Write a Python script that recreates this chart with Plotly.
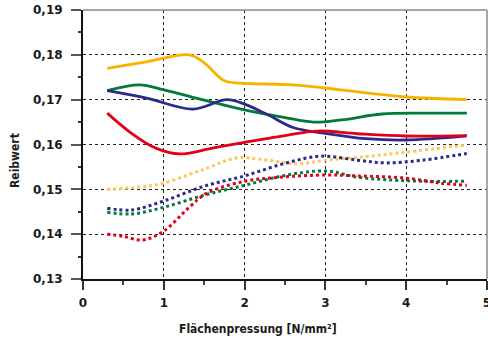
import plotly.graph_objects as go

# Friction coefficient (Reibwert) over surface pressure (Flächenpressung)
orange_x = [0.3, 0.8, 1.32, 1.5, 1.75, 1.95, 2.6, 3.0, 3.5, 4.0, 4.75]
orange_y = [0.1770, 0.1785, 0.1800, 0.1782, 0.1742, 0.1737, 0.1733, 0.1726, 0.1715, 0.1706, 0.1700]

green_x = [0.3, 0.7, 1.0, 1.5, 2.0, 2.5, 2.85, 3.2, 3.7, 4.2, 4.75]
green_y = [0.1720, 0.1733, 0.1722, 0.1699, 0.1677, 0.1660, 0.1650, 0.1655, 0.1668, 0.1670, 0.1670]

navy_x = [0.3, 0.8, 1.36, 1.78, 2.0, 2.3, 2.6, 3.0, 3.5, 4.0, 4.75]
navy_y = [0.1720, 0.1703, 0.1679, 0.1700, 0.1690, 0.1665, 0.1638, 0.1625, 0.1613, 0.1610, 0.1619]

red_x = [0.3, 0.6, 0.9, 1.2, 1.6, 2.0, 2.5, 2.9, 3.4, 4.0, 4.75]
red_y = [0.1670, 0.1625, 0.1592, 0.1579, 0.1592, 0.1605, 0.1620, 0.1630, 0.1624, 0.1619, 0.1620]

orange_dot_x = [0.3, 0.7, 1.0, 1.5, 1.9, 2.2, 2.65, 3.0, 3.5, 4.0, 4.75]
orange_dot_y = [0.1500, 0.1505, 0.1514, 0.1545, 0.1570, 0.1567, 0.1557, 0.1565, 0.1573, 0.1583, 0.1599]

navy_dot_x = [0.3, 0.6, 1.0, 1.5, 2.0, 2.5, 2.95, 3.4, 3.75, 4.2, 4.75]
navy_dot_y = [0.1458, 0.1454, 0.1474, 0.1507, 0.1530, 0.1558, 0.1574, 0.1565, 0.1559, 0.1565, 0.1580]

green_dot_x = [0.3, 0.6, 1.0, 1.5, 2.0, 2.5, 3.0, 3.4, 3.8, 4.2, 4.75]
green_dot_y = [0.1449, 0.1445, 0.1460, 0.1487, 0.1509, 0.1531, 0.1541, 0.1527, 0.1521, 0.1518, 0.1518]

red_dot_x = [0.3, 0.5, 0.74, 1.0, 1.32, 1.53, 2.0, 2.44, 3.0, 3.4, 4.0, 4.42, 4.75]
red_dot_y = [0.1400, 0.1395, 0.1387, 0.1407, 0.1461, 0.1491, 0.1518, 0.1527, 0.1532, 0.1530, 0.1525, 0.1514, 0.1509]

x_ticks = [0, 1, 2, 3, 4, 5]
y_ticks = [0.13, 0.14, 0.15, 0.16, 0.17, 0.18, 0.19]
y_tick_labels = ["0,13", "0,14", "0,15", "0,16", "0,17", "0,18", "0,19"]

ORANGE = "#F7B200"
ORANGE_LIGHT = "#FDC75A"
GREEN = "#007A3D"
NAVY = "#2A2A8A"
RED = "#E2001A"

series = [
    ("Serie 1", orange_dot_x, orange_dot_y, ORANGE_LIGHT, "dot"),
    ("Serie 2", navy_dot_x, navy_dot_y, NAVY, "dot"),
    ("Serie 3", green_dot_x, green_dot_y, GREEN, "dot"),
    ("Serie 4", red_dot_x, red_dot_y, RED, "dot"),
    ("Serie 5", orange_x, orange_y, ORANGE, "solid"),
    ("Serie 6", green_x, green_y, GREEN, "solid"),
    ("Serie 7", navy_x, navy_y, NAVY, "solid"),
    ("Serie 8", red_x, red_y, RED, "solid"),
]

fig = go.Figure()
for name, xs, ys, col, dash in series:
    fig.add_trace(go.Scatter(
        x=xs, y=ys, name=name, mode="lines",
        line=dict(color=col, width=3 if dash == "dot" else 2.8, dash=dash,
                  shape="spline", smoothing=1.0),
    ))

tick_font = dict(family="DejaVu Sans, Liberation Sans, sans-serif", size=12,
                 color="#1a1a1a", weight="bold")
title_font = dict(family="Liberation Sans Narrow, DejaVu Sans Condensed, Liberation Sans",
                  size=12, color="#1a1a1a")

fig.update_layout(
    width=488, height=343,
    margin=dict(l=83, r=1, t=10, b=64, autoexpand=False),
    paper_bgcolor="white", plot_bgcolor="white",
    showlegend=False,
    font=dict(family="Liberation Sans, Arial, sans-serif", color="#1a1a1a"),
    xaxis=dict(
        range=[0, 5], tickvals=x_ticks, ticktext=[str(v) for v in x_ticks],
        tickfont=tick_font, ticklabeloverflow="allow", ticklabelstandoff=3,
        automargin=False,
        showline=True, linecolor="#111", linewidth=2,
        showgrid=True, gridcolor="#222", griddash="dot", gridwidth=1,
        ticks="outside", ticklen=9, tickwidth=2, tickcolor="#333",
        minor=dict(dtick=0.5, ticks="outside", ticklen=4, tickwidth=2, tickcolor="#444", showgrid=False),
        zeroline=False, fixedrange=True,
    ),
    yaxis=dict(
        range=[0.13, 0.19], tickvals=y_ticks, ticktext=y_tick_labels,
        tickfont=tick_font, ticklabeloverflow="allow", ticklabelstandoff=6,
        automargin=False,
        showline=True, linecolor="#111", linewidth=2,
        showgrid=True, gridcolor="#222", griddash="dot", gridwidth=1,
        ticks="outside", ticklen=10, tickwidth=2, tickcolor="#555",
        minor=dict(dtick=0.005, tick0=0.13, ticks="outside", ticklen=3, tickwidth=2, tickcolor="#333", showgrid=False),
        zeroline=False, fixedrange=True,
    ),
    shapes=[
        dict(type="line", xref="paper", yref="paper", x0=0, x1=1, y0=1, y1=1,
             line=dict(color="#8a8a8a", width=1.5)),
        dict(type="line", xref="paper", yref="paper", x0=1, x1=1, y0=0, y1=1,
             line=dict(color="#8a8a8a", width=1.5)),
    ],
    annotations=[
        dict(text="<b>Reibwert</b>", xref="paper", yref="paper",
             x=-83 / 404 + 15 / 404, y=(279 - 161) / 269, textangle=-90,
             showarrow=False, xanchor="center", yanchor="middle", font=title_font),
        dict(text="<b>Flächenpressung [N/mm²]</b>", xref="paper", yref="paper",
             x=(258 - 83) / 404, y=-(329 - 279) / 269,
             showarrow=False, xanchor="center", yanchor="middle", font=title_font),
    ],
)

fig.write_html("out.html")
